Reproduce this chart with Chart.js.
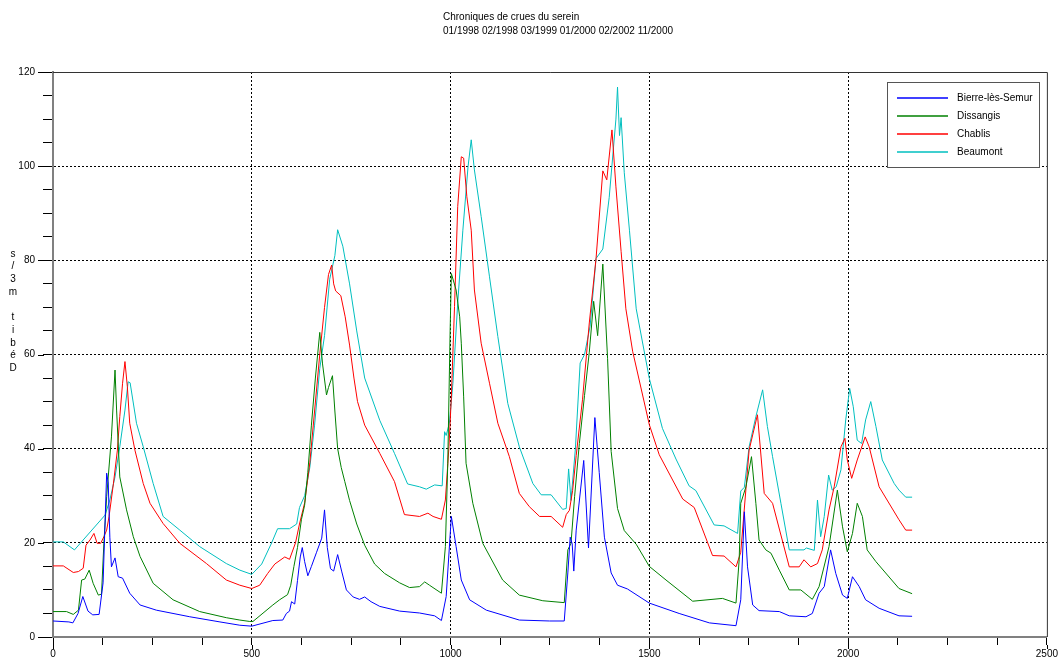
<!DOCTYPE html>
<html>
<head>
<meta charset="utf-8">
<script src="https://cdn.jsdelivr.net/npm/chart.js@4.4.0/dist/chart.umd.min.js"></script>
<style>
  html, body { margin: 0; padding: 0; background: #fff; }
  #wrap { width: 1061px; height: 660px; }
</style>
</head>
<body>
<div id="wrap"><canvas id="crues" width="1061" height="660"></canvas></div>
<script>
// Débits journaliers (m3/s) des quatre stations, jours depuis le début de la chronique
const titleLines = ['Chroniques de crues du serein', '01/1998 02/1998 03/1999 01/2000 02/2002 11/2000'];
const yLabel = 'Débit m3/s';
const stations = ['Bierre-lès-Semur', 'Dissangis', 'Chablis', 'Beaumont'];
const colors = ['#0000ff', '#008000', '#ff0000', '#00bfbf'];

const bierreX = [0,40,50,63,75,88,100,116,126,135,139,143,147,156,164,175,193,219,260,344,420,470,500,553,578,587,595,600,608,615,622,627,633,641,650,663,676,683,690,698,706,716,726,738,755,771,784,800,822,872,922,960,977,989,1002,1014,1027,1048,1090,1173,1249,1286,1295,1301,1306,1310,1316,1335,1347,1363,1374,1387,1404,1420,1445,1500,1575,1651,1718,1730,1739,1747,1760,1776,1827,1852,1894,1910,1927,1940,1956,1969,1986,1998,2011,2028,2044,2078,2128,2161];
const bierreY = [3.4,3.2,3.0,5.0,8.6,5.5,4.7,4.8,11.5,34.8,32.7,21.2,14.9,16.8,12.8,12.5,9.3,6.8,5.7,4.3,3.2,2.5,2.3,3.5,3.6,5.0,5.5,7.5,7.0,12,17,19,16,13,15,18,21,27,19,14.5,14,17.5,14,10,8.5,8.0,8.5,7.5,6.5,5.5,5.1,4.5,3.5,8.6,25.6,19.2,12.1,7.9,5.7,3.6,3.4,3.4,13.6,21.2,19.8,14,22.7,37.5,18.9,46.6,34.9,21.2,13.6,11,10.2,7.2,5.0,3.0,2.4,7.9,26.6,14.9,6.8,5.6,5.4,4.5,4.3,5.0,9.3,10.7,18.5,13.5,8.9,8.2,12.8,10.7,7.9,6.1,4.5,4.4];

const dissangisX = [0,34,51,64,72,80,91,101,114,122,128,135,147,156,160,168,185,202,219,252,302,369,436,470,495,503,553,570,590,598,606,615,625,633,641,650,660,671,678,688,693,703,709,716,725,734,746,764,784,809,834,872,897,922,935,947,977,987,993,999,1002,1014,1023,1027,1033,1039,1056,1081,1131,1173,1232,1286,1295,1303,1312,1324,1337,1349,1360,1370,1383,1395,1404,1420,1437,1467,1500,1542,1609,1684,1718,1726,1730,1743,1757,1768,1776,1793,1806,1827,1852,1881,1910,1927,1952,1973,1986,1998,2011,2023,2036,2048,2070,2128,2161];
const dissangisY = [5.4,5.4,4.8,5.7,12.1,12.3,14.2,11.4,8.9,9.1,19.9,29.8,42.5,56.7,48.2,34,27,21.3,17.1,11.4,7.9,5.4,4.1,3.6,3.3,3.3,6.8,7.9,9,11,15,19,25,28,35,45,55,64.7,58,51.4,53,55.5,48,40,36,33,29,24,19.5,15.5,13.5,11.5,10.5,10.7,11.7,11,9.3,19.2,36.9,65.2,77.2,73.7,68,62.4,51,36.9,28.4,19.9,12.1,8.9,7.7,7.3,18.5,19.9,29.8,41.1,51.3,60.5,71.3,64,79.2,59.1,39.4,27.3,22.6,19.7,15,12.1,7.6,8.2,7.2,16.4,28.4,31.9,38.3,28.4,20.6,18.5,17.8,14.2,10,10,8,10.7,19.2,31.2,23.4,18.1,22,28.4,25.6,18.5,16,10.3,9.2];

const chablisX = [0,26,51,64,76,83,93,103,111,120,128,135,141,152,162,168,175,181,187,193,206,227,244,277,319,386,436,470,500,520,540,558,583,595,610,620,633,646,658,671,683,693,701,706,711,724,735,746,757,766,784,822,859,884,922,943,956,977,987,996,1002,1010,1018,1027,1033,1041,1052,1060,1077,1098,1119,1148,1173,1198,1224,1253,1282,1291,1299,1307,1316,1332,1349,1366,1383,1393,1406,1416,1429,1441,1458,1500,1525,1584,1613,1659,1688,1718,1730,1751,1772,1789,1810,1852,1877,1889,1906,1923,1935,1952,1965,1982,1992,1998,2009,2023,2043,2053,2078,2128,2145,2161];
const chablisY = [15.1,15.1,13.7,13.9,14.6,19.5,20.6,22,19.9,19.9,21.3,22.7,25.6,32.6,39.7,46.8,53.9,58.5,53.2,45.4,39.7,32.6,28.4,24.1,19.9,15.6,12.1,11,10.3,11,13.5,15.5,17,16.5,20,24,28.5,37,48,60,70,77,79,75,73.5,72.5,68,62,55,50,45,39,33,26,25.6,26.3,25.6,25,29.1,40.4,51,70.2,91.4,102,101.7,93.5,86.4,73.7,62.4,53.9,45.4,38.3,30.5,27.7,25.6,25.6,23.3,26,26.9,31.1,38.5,50.5,66.7,80.4,99,97.1,107.7,95.6,81.9,69.7,60.7,45.1,38.7,29.3,27.5,17.3,17.2,14.9,18,39.7,47.2,30.5,28.4,14.9,14.9,16.4,14.9,15.6,18.5,27,31.9,40.4,42.2,37.6,33.7,37.6,42.5,40.4,31.9,24.9,22.7,22.7];

const beaumontX = [0,26,54,131,143,156,168,181,189,194,210,227,252,277,319,369,436,470,500,525,550,565,595,613,620,633,646,658,671,683,696,709,716,729,746,764,784,822,859,892,922,939,960,979,985,989,997,1006,1018,1031,1044,1052,1060,1077,1098,1119,1144,1173,1207,1228,1253,1282,1291,1297,1303,1314,1326,1337,1351,1366,1383,1399,1416,1420,1425,1429,1437,1450,1467,1500,1533,1567,1600,1617,1663,1688,1722,1730,1739,1751,1768,1785,1797,1810,1831,1852,1889,1895,1915,1923,1931,1940,1951,1960,1970,1982,1994,2004,2013,2023,2034,2044,2057,2070,2086,2116,2128,2145,2161];
const beaumontY = [20.2,20.2,18.5,25.9,29.1,34,40.4,48.2,54.2,54,45.4,40.4,32.6,25.6,22.7,19.2,15.6,14.2,13.3,15.5,20,23,23,24,27.5,30,36,45,57,64,76,81,86.5,83,75,65,55,46,39,32.5,31.9,31.4,32.3,32.1,43.6,42.8,45.4,53.9,70.9,86.4,99.9,105.6,99.2,89.3,76.5,63.8,49.6,40.4,32.6,30.2,30.2,27.1,27.3,35.7,29,40,58.2,60,66,80.4,82.4,93.3,110,116.8,106.5,110.3,98.6,86.4,69.7,54.9,44.3,37.8,32.1,31.1,23.8,23.6,22,31,31.8,40.4,46.8,52.5,44.7,38.3,28.4,18.5,18.5,18.9,18.4,29.1,21.3,25.6,34.4,31.2,31.9,35.5,46.1,52.8,48.9,41.8,41.1,46.1,50,44.7,37.6,32.6,31.2,29.7,29.7];

const xTicks = { min: 0, max: 2500, major: 500, minor: 125 };
const yTicks = { min: 0, max: 120, major: 20, minor: 5 };

const FONT = '"Liberation Sans", Arial, sans-serif';

function pts(xs, ys) {
  return xs.map((x, i) => ({ x: x, y: ys[i] }));
}

const series = [[bierreX, bierreY], [dissangisX, dissangisY], [chablisX, chablisY], [beaumontX, beaumontY]];

// cadre haut/droite, grands traits, titre, libellé vertical et légende
const decor = {
  id: 'decor',
  afterDraw(chart) {
    const { ctx, chartArea: a, scales } = chart;
    ctx.save();

    ctx.strokeStyle = '#333';
    ctx.lineWidth = 1;
    ctx.beginPath();
    ctx.moveTo(a.left, a.top + 0.5);
    ctx.lineTo(a.right + 0.5, a.top + 0.5);
    ctx.lineTo(a.right + 0.5, a.bottom);
    ctx.stroke();

    // graduations principales plus longues
    ctx.strokeStyle = '#000';
    ctx.beginPath();
    for (let v = yTicks.min; v <= yTicks.max; v += yTicks.major) {
      const py = Math.round(scales.y.getPixelForValue(v)) + 0.5;
      ctx.moveTo(a.left - 15, py);
      ctx.lineTo(a.left - 9, py);
    }
    for (let v = xTicks.min; v <= xTicks.max; v += xTicks.major) {
      const px = Math.round(scales.x.getPixelForValue(v)) + 0.5;
      ctx.moveTo(px, a.bottom + 8);
      ctx.lineTo(px, a.bottom + 12);
    }
    ctx.stroke();

    ctx.fillStyle = '#000';
    ctx.font = '10px ' + FONT;
    ctx.textAlign = 'left';
    ctx.textBaseline = 'alphabetic';
    ctx.fillText(titleLines[0], 443, 20);
    ctx.fillText(titleLines[1], 443, 34);

    // libellé de l'axe y, lettres empilées de bas en haut
    const chars = yLabel.split('').reverse();
    ctx.textAlign = 'center';
    ctx.textBaseline = 'middle';
    chars.forEach((c, i) => {
      ctx.fillText(c, 13, 254 + i * 12.7);
    });

    // légende
    const lx = 887.5, ly = 82.5, lw = 152, lh = 85;
    ctx.fillStyle = '#fff';
    ctx.fillRect(lx, ly, lw, lh);
    ctx.strokeStyle = '#555';
    ctx.strokeRect(lx, ly, lw, lh);
    stations.forEach((name, i) => {
      const ry = 98 + i * 18;
      ctx.strokeStyle = colors[i];
      ctx.lineWidth = 1.4;
      ctx.beginPath();
      ctx.moveTo(897, ry);
      ctx.lineTo(948, ry);
      ctx.stroke();
      ctx.fillStyle = '#000';
      ctx.textAlign = 'left';
      ctx.fillText(name, 957, ry);
    });

    ctx.restore();
  }
};

new Chart(document.getElementById('crues'), {
  type: 'line',
  data: {
    datasets: stations.map((name, i) => ({
      label: name,
      data: pts(series[i][0], series[i][1]),
      borderColor: colors[i],
      backgroundColor: colors[i],
      borderWidth: 1,
      pointRadius: 0,
      tension: 0,
      fill: false
    }))
  },
  options: {
    responsive: false,
    animation: false,
    layout: { autoPadding: false, padding: { left: 0, right: 13, top: 72, bottom: 0 } },
    plugins: {
      legend: { display: false },
      title: { display: false },
      tooltip: { enabled: false }
    },
    scales: {
      x: {
        type: 'linear',
        min: xTicks.min,
        max: xTicks.max,
        afterFit: s => { s.height = 23; },
        ticks: {
          stepSize: xTicks.minor,
          autoSkip: false,
          maxRotation: 0,
          padding: 3,
          color: '#000',
          font: { family: FONT, size: 10 },
          callback: v => (v % xTicks.major === 0 ? String(v) : '')
        },
        grid: {
          color: c => (c.tick && c.tick.value % xTicks.major === 0 && c.tick.value > xTicks.min && c.tick.value < xTicks.max) ? '#000' : 'rgba(0,0,0,0)',
          tickColor: '#000',
          tickLength: 8,
          tickBorderDash: [],
          lineWidth: 1
        },
        border: { display: true, color: '#808080', width: 2, dash: [2, 2] }
      },
      y: {
        min: yTicks.min,
        max: yTicks.max,
        afterFit: s => { s.width = 53; },
        ticks: {
          stepSize: yTicks.minor,
          autoSkip: false,
          padding: 8,
          color: '#000',
          font: { family: FONT, size: 10 },
          callback: v => (v % yTicks.major === 0 ? String(v) : '')
        },
        grid: {
          color: c => (c.tick && c.tick.value % yTicks.major === 0 && c.tick.value > yTicks.min && c.tick.value < yTicks.max) ? '#000' : 'rgba(0,0,0,0)',
          tickColor: '#000',
          tickLength: 10,
          tickBorderDash: [],
          lineWidth: 1
        },
        border: { display: true, color: '#808080', width: 2, dash: [2, 2] }
      }
    }
  },
  plugins: [decor]
});
</script>
</body>
</html>
